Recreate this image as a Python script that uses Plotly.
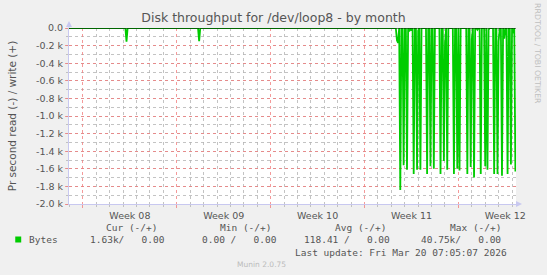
import plotly.graph_objects as go
from datetime import datetime, timedelta

# ---------------- data ----------------
range_start = "2026-02-14 23:05"
range_end = "2026-03-20 07:05"

# quiet stretch (read side, negative = read)
quiet_times = ["2026-02-14 23:05", "2026-02-19 04:00", "2026-02-19 06:00", "2026-02-19 08:00",
               "2026-02-24 14:00", "2026-02-24 16:00", "2026-02-24 18:00", "2026-03-11 06:00"]
quiet_values = [0, 0, -155, 0, 0, -150, 0, 0]

# busy stretch: 2-hour samples starting at this time
busy_start = "2026-03-11 08:00"
busy_values = [
    0, -140, -170, 0, -1840, 0, 0, -1560, 0, 0,
    -1610, 0, -40, 0, -30, 0, -1660, 0, 0, -1610,
    -30, 0, -1610, 0, 0, 0, 0, 0, -1660, 0,
    0, -1570, 0, 0, -1600, 0, 0, 0, 0, 0,
    -1660, 0, 0, -1510, -180, 0, -1610, 0, 0, 0,
    0, 0, -1660, 0, 0, -1600, 0, -1620, 0, 0,
    0, 0, 0, 0, -1660, 0, 0, -1580, -125, 0,
    -1700, 0, 0, -20, 0, 0, -1660, 0, 0, 0,
    -1570, 0, -1610, -20, 0, 0, 0, 0, -1660, 0,
    0, -1660, -150, 0, 0, -1680, 0, -120, 0, 0,
    -1660, 0, 0, -1550, 0, -60, 0, -1630,
]

y_tickvals = [0, -200, -400, -600, -800, -1000, -1200, -1400, -1600, -1800, -2000]
y_ticktext = ["0.0", "-0.2 k", "-0.4 k", "-0.6 k", "-0.8 k", "-1.0 k",
              "-1.2 k", "-1.4 k", "-1.6 k", "-1.8 k", "-2.0 k"]

legend_headers = ["Cur (-/+)", "Min (-/+)", "Avg (-/+)", "Max (-/+)"]
legend_values = ["1.63k/   0.00", "0.00 /   0.00", "118.41 /   0.00", "40.75k/   0.00"]
series_name = "Bytes"
last_update = "Last update: Fri Mar 20 07:05:07 2026"
title_text = "Disk throughput for /dev/loop8 - by month"
ytitle_text = "Pr second read (-) / write (+)"

# ---------------- build series ----------------
t0 = datetime.strptime(busy_start, "%Y-%m-%d %H:%M")
busy_times = [(t0 + timedelta(hours=2 * i)).strftime("%Y-%m-%d %H:%M") for i in range(len(busy_values))]
xs = quiet_times + busy_times
ys = quiet_values + busy_values

W, H = 547, 275
L, R, T, B = 67, 516, 28, 204

def px(x):
    return (x - L) / (R - L)

def py(y):
    return (B - y) / (B - T)

GREEN = "#00CC00"
TXT = "#555555"
MONO = "DejaVu Sans Mono"
SANS = "DejaVu Sans"

fig = go.Figure()
fig.add_trace(go.Scatter(x=xs, y=ys, mode="lines",
                         line=dict(color=GREEN, width=1.8, shape="linear"),
                         hoverinfo="skip", showlegend=False))

MAJ = "rgba(240,120,120,0.75)"
MIN = "rgba(180,180,180,0.8)"
AXIS = "#c8c8f0"

fig.update_layout(
    width=W, height=H,
    margin=dict(l=L, r=W - R, t=T, b=H - B),
    paper_bgcolor="#F0F0F0", plot_bgcolor="#FFFFFF",
    showlegend=False,
    title=dict(text=title_text, x=0.5, xref="container", xanchor="center",
               y=1 - 18 / H, yref="container", yanchor="middle",
               font=dict(family=SANS, size=12.5, color=TXT)),
    xaxis=dict(type="date", range=[range_start, range_end],
               tick0="2026-02-16", dtick=7 * 86400000,
               tickformat="Week %V", ticklabelmode="period",
               showgrid=True, gridcolor=MAJ, griddash="dot", gridwidth=1,
               ticks="outside", ticklen=3, tickcolor=MAJ,
               showline=True, linecolor=AXIS, linewidth=1,
               zeroline=False,
               tickfont=dict(family=SANS, size=9.5, color=TXT),
               minor=dict(dtick=86400000, tick0="2026-02-16", showgrid=True,
                          gridcolor=MIN, griddash="dot", gridwidth=1,
                          ticks="outside", ticklen=2, tickcolor=MIN)),
    yaxis=dict(range=[-2000, 0], tickvals=y_tickvals, ticktext=y_ticktext,
               showgrid=True, gridcolor=MAJ, griddash="dot", gridwidth=1,
               ticks="outside", ticklen=3, tickcolor=MAJ,
               showline=True, linecolor=AXIS, linewidth=1,
               zeroline=False,
               tickfont=dict(family=SANS, size=9.5, color=TXT),
               title=dict(text=ytitle_text, font=dict(family=SANS, size=10.5, color=TXT), standoff=17),
               minor=dict(dtick=100, tick0=0, showgrid=True,
                          gridcolor=MIN, griddash="dot", gridwidth=1,
                          ticks="outside", ticklen=2, tickcolor=MIN)),
)

# zero line in black on top of the data
fig.add_shape(type="line", xref="paper", yref="y", x0=0, x1=1, y0=0, y1=0,
              line=dict(color="#000000", width=1), layer="above")
# axis arrows
fig.add_shape(type="path", xref="paper", yref="paper", xsizemode="pixel", ysizemode="pixel",
              xanchor=0, yanchor=1, path="M -3,1 L 3,1 L 0,7 Z",
              fillcolor=AXIS, line=dict(width=0), layer="above")
fig.add_shape(type="line", xref="paper", yref="paper", xsizemode="pixel", ysizemode="pixel",
              xanchor=0, yanchor=1, x0=0, x1=0, y0=0, y1=2, line=dict(color=AXIS, width=1))
fig.add_shape(type="path", xref="paper", yref="paper", xsizemode="pixel", ysizemode="pixel",
              xanchor=1, yanchor=0, path="M 0,-3 L 0,3 L 6,0 Z",
              fillcolor=AXIS, line=dict(width=0), layer="above")

# legend
fig.add_shape(type="rect", xref="paper", yref="paper",
              x0=px(13), x1=px(19), y0=py(236.5), y1=py(242.5),
              fillcolor=GREEN, line=dict(width=0))

def ann(text, x, y, anchor="left", size=9.5, color=TXT, family=MONO, angle=0):
    fig.add_annotation(text=text.replace(" ", "\u00a0"), x=px(x), y=py(y), xref="paper", yref="paper",
                       xanchor=anchor, yanchor="middle", showarrow=False, textangle=angle,
                       font=dict(family=family, size=size, color=color))

ann(series_name, 25, 239.5)
header_right = [157, 272, 387, 503]
value_right = [165, 278, 391, 503]
for h, xr in zip(legend_headers, header_right):
    ann(h, xr, 228, anchor="right")
for v, xr in zip(legend_values, value_right):
    ann(v, xr, 239.5, anchor="right")
ann(last_update, 509, 252, anchor="right")
ann("Munin 2.0.75", 260.5, 264, anchor="center", size=7.5, color="#BBBBBB", family=SANS)
ann("RRDTOOL / TOBI OETIKER", 537.5, 53.5, anchor="center", size=7.8, color="#BFBFBF", family=SANS, angle=90)

fig.write_html("out.html")
